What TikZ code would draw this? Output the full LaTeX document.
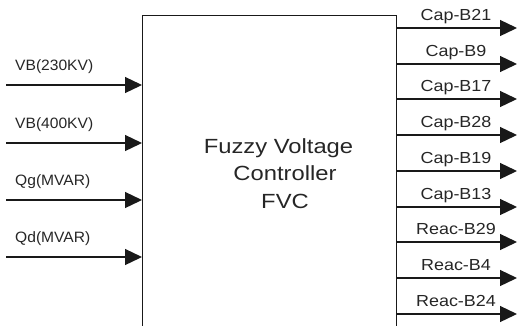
\documentclass[tikz,border=0pt]{standalone}
\usepackage{fontspec}
\setmainfont{Liberation Sans}
\usetikzlibrary{arrows.meta}
\begin{document}
\begin{tikzpicture}[x=1pt,y=-1pt,
  line/.style={line width=1.3pt,draw=black!90},
  sig/.style={line, -{Triangle[length=17pt,width=16pt]}},
  inlab/.style={anchor=base west,inner sep=0pt,font=\fontsize{15}{15}\selectfont,text=black!85},
  outlab/.style={anchor=base,inner sep=0pt,font=\fontsize{16}{16}\selectfont,text=black!85},
  maintext/.style={align=center,inner sep=0pt,font=\fontsize{20.5}{27.5}\selectfont,text=black!85}]
\useasboundingbox (0,0) rectangle (517,325);
\node[line,draw,minimum width=254pt,minimum height=330pt,inner sep=0pt,anchor=north west] (fvc) at (142,15) {};
\node[maintext,anchor=base] (t) at (285,208) {\scalebox{1.16}[1]{Fuzzy Voltage}\hspace*{13pt}\\ \scalebox{1.16}[1]{Controller}\\ \scalebox{1.16}[1]{FVC}};
\foreach \y/\lab [count=\i] in {85/VB(230KV),143/VB(400KV),200/Qg(MVAR),257/Qd(MVAR)}{
  \coordinate (in\i) at (6,\y);
  \draw[sig] (in\i) -- (fvc.west |- in\i);
  \node[inlab] (inl\i) at (15,\y-14.3) {\scalebox{1.04}[1]{\lab}};
}
\foreach \y/\lab [count=\i] in {28/Cap-B21,64/Cap-B9,99/Cap-B17,135/Cap-B28,171/Cap-B19,207/Cap-B13,242/Reac-B29,278/Reac-B4,314/Reac-B24}{
  \coordinate (out\i) at (517,\y);
  \draw[sig] (fvc.east |- out\i) -- (out\i);
  \node[outlab] (outl\i) at (456,\y-8) {\scalebox{1.12}[1]{\lab}};
}
\end{tikzpicture}
\end{document}
